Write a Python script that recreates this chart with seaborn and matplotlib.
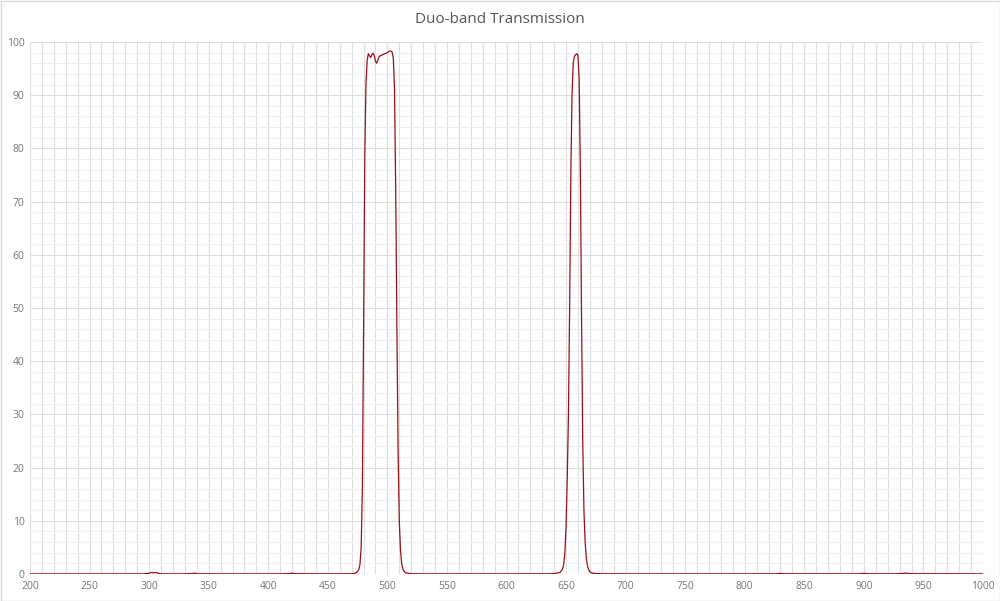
import numpy as np
import pandas as pd
import matplotlib
matplotlib.use("Agg")
import matplotlib.pyplot as plt
import seaborn as sns
from matplotlib.patches import Rectangle

title = "Duo-band Transmission"

wavelength = [200, 250, 295, 300, 302, 304, 306, 308, 312, 330, 336, 338, 340, 360, 410, 418, 420, 422, 450, 465, 470,
              472, 474, 476, 477, 478, 479, 480, 481, 482, 483, 484, 485, 486, 487, 488, 489, 490, 491, 492, 493, 494,
              495, 496, 498, 500, 502, 503, 504, 505, 506, 507, 508, 509, 510, 511, 512, 513, 515, 520, 530,
              600, 635, 640, 645, 647, 648, 649, 650, 651, 652, 653, 654, 655, 656, 657, 658, 659, 660, 661, 662,
              663, 664, 665, 666, 667, 668, 669, 670, 672, 680, 700, 800, 826, 830, 834, 890, 896, 900, 904, 925,
              930, 935, 940, 1000]
transmission = [0.02, 0.02, 0.03, 0.12, 0.3, 0.22, 0.3, 0.1, 0.03, 0.03, 0.08, 0.18, 0.06, 0.03, 0.03, 0.08, 0.18, 0.06, 0.03, 0.04, 0.06,
                0.12, 0.25, 0.8, 1.8, 5.0, 16.0, 45.0, 78.0, 92.0, 96.5, 97.8, 97.4, 97.1, 97.6, 97.9, 97.4, 96.4, 96.0, 96.6, 97.2, 97.4,
                97.5, 97.6, 97.8, 98.0, 98.3, 98.3, 98.1, 97.0, 91.0, 72.0, 46.0, 23.0, 10.0, 4.5, 2.0, 0.9, 0.25, 0.06, 0.03,
                0.03, 0.04, 0.07, 0.3, 0.9, 1.8, 4.0, 9.0, 18.0, 30.0, 50.0, 75.0, 90.0, 96.0, 97.3, 97.6, 97.8, 97.5, 93.0, 76.0,
                48.0, 25.0, 12.0, 6.0, 3.0, 1.5, 0.8, 0.4, 0.15, 0.05, 0.03, 0.03, 0.04, 0.12, 0.04, 0.03, 0.05, 0.12, 0.05, 0.03,
                0.08, 0.15, 0.06, 0.03]

x_ticks = list(range(200, 1001, 50))
y_ticks = list(range(0, 101, 10))

df = pd.DataFrame({"Wavelength": wavelength, "Transmission": transmission})

sns.set_style("white")
plt.rcParams["font.family"] = ["Open Sans", "DejaVu Sans"]

fig = plt.figure(figsize=(10, 6.01), dpi=100)
ax = fig.add_axes([0.030, 0.0449, 0.953, 0.8852])

sns.lineplot(data=df, x="Wavelength", y="Transmission", ax=ax, color="#9a1018",
             linewidth=0.9, estimator=None, sort=False)

ax.set_xlim(200, 1000)
ax.set_ylim(0, 100)
ax.set_xticks(x_ticks)
ax.set_yticks(y_ticks)
ax.set_xticks(range(200, 1001, 10), minor=True)
ax.set_yticks(range(0, 101, 2), minor=True)
ax.grid(True, which="major", color="#dedede", linewidth=0.8)
ax.grid(True, which="minor", axis="x", color="#dedede", linewidth=0.8)
ax.grid(True, which="minor", axis="y", color="#efefef", linewidth=0.8)
ax.set_axisbelow(True)
for s in ax.spines.values():
    s.set_visible(False)
ax.tick_params(axis="both", which="both", length=0, labelsize=7.5, labelcolor="#777777")
ax.tick_params(axis="y", pad=4)
ax.tick_params(axis="x", pad=5)
ax.set_xlabel("")
ax.set_ylabel("")

fig.text(0.5, 0.968, title, ha="center", va="center", fontsize=11, color="#555555")
fig.patches.append(Rectangle((0.0005, 0.0008), 0.999, 0.998, transform=fig.transFigure,
                             fill=False, edgecolor="#d9d9d9", linewidth=1.0))

fig.savefig("out.png", dpi=100, facecolor="white")
